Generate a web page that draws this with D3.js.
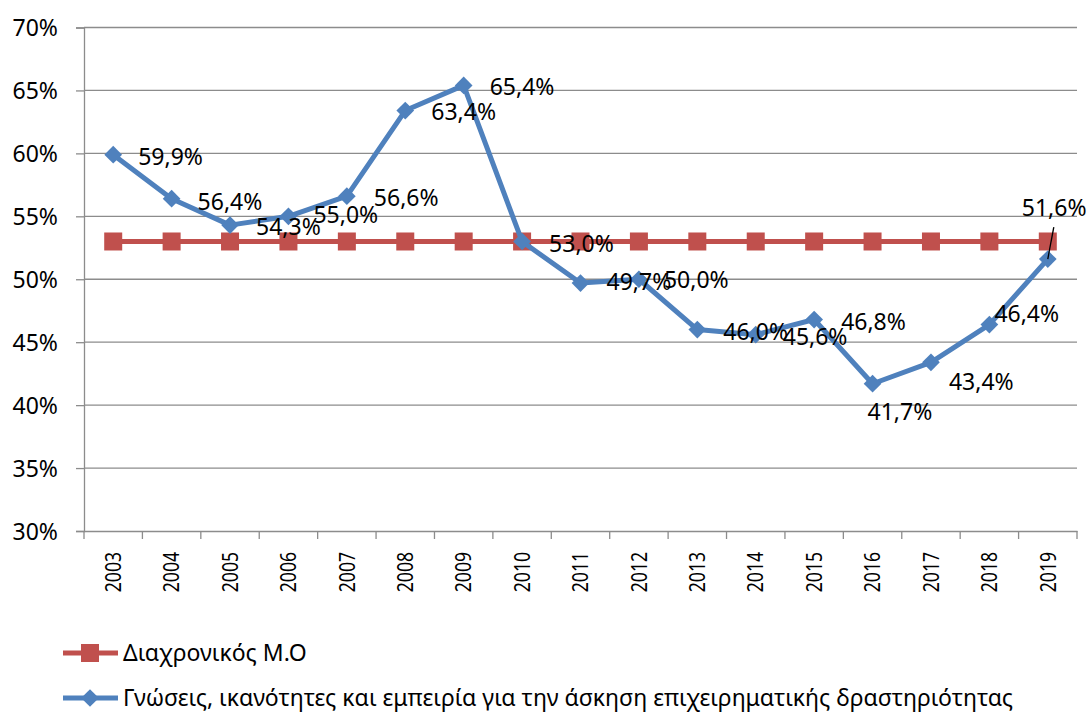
<!DOCTYPE html>
<html><head><meta charset="utf-8">
<script src="https://cdn.jsdelivr.net/npm/d3@7"></script>
<style>body{margin:0;background:#fff}text{font-family:"Noto Sans",sans-serif;fill:#000}</style>
</head><body><svg id="c" width="1089" height="713"></svg>
<script>
const years = ["2003","2004","2005","2006","2007","2008","2009","2010","2011","2012","2013","2014","2015","2016","2017","2018","2019"];
const seriesBlue = [59.9,56.4,54.3,55.0,56.6,63.4,65.4,53.0,49.7,50.0,46.0,45.6,46.8,41.7,43.4,46.4,51.6];
const seriesRed = [53.0,53.0,53.0,53.0,53.0,53.0,53.0,53.0,53.0,53.0,53.0,53.0,53.0,53.0,53.0,53.0,53.0];
const yTicks = [30,35,40,45,50,55,60,65,70];
const nameRed = "Διαχρονικός Μ.Ο";
const nameBlue = "Γνώσεις, ικανότητες και εμπειρία για την άσκηση επιχειρηματικής δραστηριότητας";
// label offsets (dx, dy) relative to point
const labelOff = [[25,2],[26,3],[26,2],[25,-1],[27,2],[26,1],[26,2],[27,2],[26,-1],[25,1],[26,2],[27,2],[27,2],[-5,28],[18,20],[5,-11],[-26,-51]];

const svg = d3.select("#c");
const L=84,R=1077,T=27.5,B=531;
const FS = "23px";
const x = d3.scaleBand().domain(years).range([L,R]);
const y = d3.scaleLinear().domain([30,70]).range([B,T]);
const cx = d=>x(d)+x.bandwidth()/2;
const fmt = v=>v.toFixed(1).replace(".",",")+"%";

// gridlines
svg.append("g").selectAll("line").data(yTicks.filter(t=>t>30)).join("line")
 .attr("x1",L).attr("x2",R).attr("y1",d=>y(d)).attr("y2",d=>y(d))
 .attr("stroke","#8c8c8c").attr("stroke-width",1.3);

// y axis
const ya = svg.append("g").attr("transform",`translate(${L},0)`)
 .call(d3.axisLeft(y).tickValues(yTicks).tickSize(8).tickPadding(18).tickFormat(d=>d+"%"));
ya.select(".domain").attr("stroke","#8c8c8c").attr("stroke-width",1.3);
ya.selectAll(".tick line").attr("stroke","#8c8c8c").attr("stroke-width",1.3);
ya.selectAll("text").style("font-size",FS).attr("dy","0.35em");

// x axis
const xa = svg.append("g").attr("transform",`translate(0,${B})`)
 .call(d3.axisBottom(x).tickSize(0));
xa.select(".domain").attr("stroke","#8c8c8c").attr("stroke-width",1.3);
xa.selectAll("text").style("font-size","22px").attr("transform","rotate(-90) scale(0.8,1)")
 .attr("text-anchor","end").attr("x",-21/0.8).attr("y",0).attr("dy","0.35em");
// category boundary ticks
xa.append("g").selectAll("line").data(d3.range(years.length+1)).join("line")
 .attr("x1",i=>L+i*x.step()).attr("x2",i=>L+i*x.step()).attr("y1",0).attr("y2",8)
 .attr("stroke","#8c8c8c").attr("stroke-width",1.3);

const red="#C0504D", blue="#4F81BD";
const line = d3.line().x((d,i)=>cx(years[i])).y(d=>y(d));

svg.append("path").datum(seriesRed).attr("d",line).attr("fill","none").attr("stroke",red).attr("stroke-width",5);
svg.append("g").selectAll("rect").data(seriesRed).join("rect")
 .attr("x",(d,i)=>cx(years[i])-9).attr("y",d=>y(d)-9).attr("width",18).attr("height",18).attr("fill",red);

svg.append("path").datum(seriesBlue).attr("d",line).attr("fill","none").attr("stroke",blue).attr("stroke-width",5).attr("stroke-linejoin","round");
const diamond = d3.symbol().type(d3.symbolDiamond2).size(200);
svg.append("g").selectAll("path").data(seriesBlue).join("path")
 .attr("d",diamond).attr("transform",(d,i)=>`translate(${cx(years[i])},${y(d)})`).attr("fill",blue);

// leader line for last label
const li = seriesBlue.length-1;
svg.append("line").attr("x1",cx(years[li])+6).attr("y1",y(seriesBlue[li])-32)
 .attr("x2",cx(years[li])).attr("y2",y(seriesBlue[li])).attr("stroke","#000").attr("stroke-width",1.3);

svg.append("g").selectAll("text").data(seriesBlue).join("text")
 .attr("x",(d,i)=>cx(years[i])+labelOff[i][0]).attr("y",(d,i)=>y(d)+labelOff[i][1])
 .attr("dy","0.35em").style("font-size",FS).text(d=>fmt(d));

// legend
const lg = svg.append("g");
lg.append("line").attr("x1",63).attr("x2",118).attr("y1",653).attr("y2",653).attr("stroke",red).attr("stroke-width",5);
lg.append("rect").attr("x",81).attr("y",644).attr("width",18).attr("height",18).attr("fill",red);
lg.append("text").attr("x",123).attr("y",653).attr("dy","0.35em").style("font-size",FS).text(nameRed);
lg.append("line").attr("x1",63).attr("x2",118).attr("y1",698).attr("y2",698).attr("stroke",blue).attr("stroke-width",5);
lg.append("path").attr("d",diamond).attr("transform","translate(90,698)").attr("fill",blue);
lg.append("text").attr("x",123).attr("y",698).attr("dy","0.35em").style("font-size",FS).text(nameBlue);
</script></body></html>
